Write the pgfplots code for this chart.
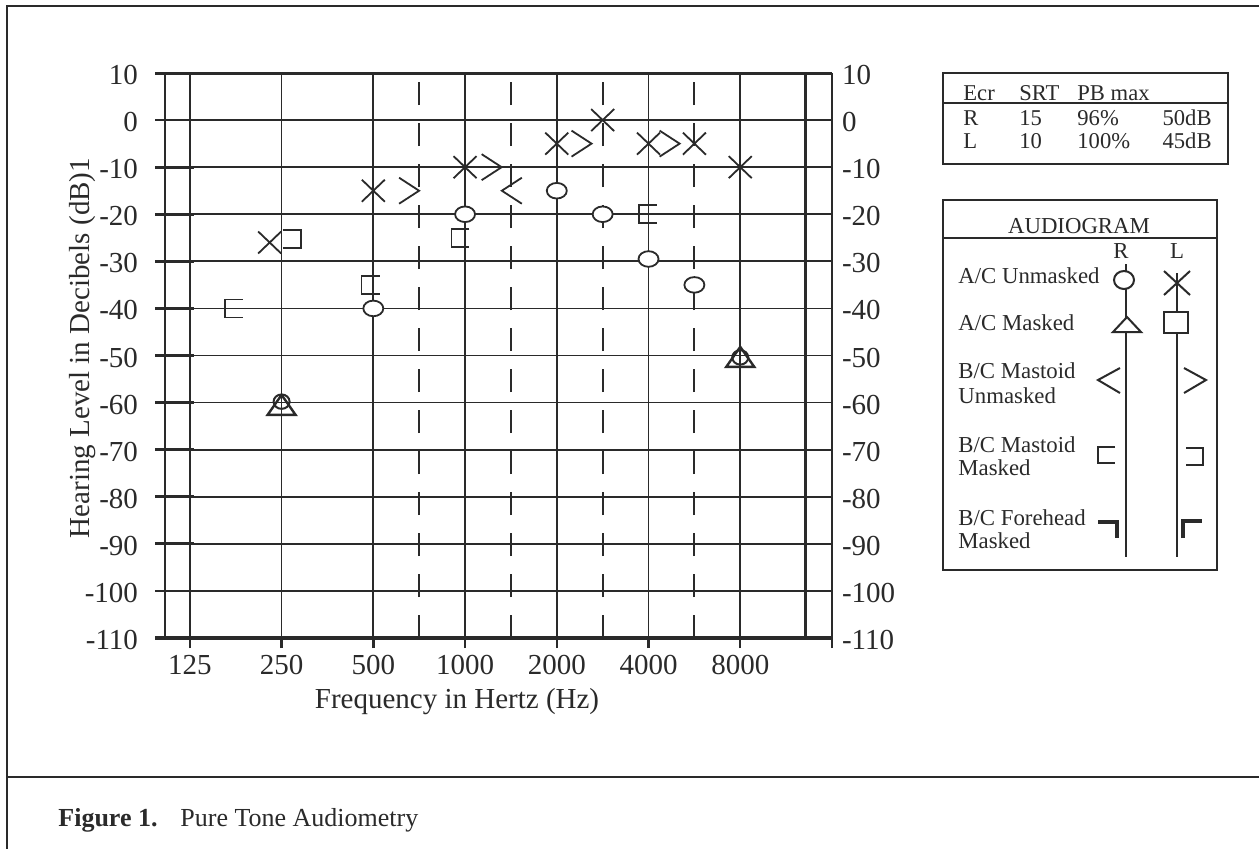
\documentclass[border=0pt]{standalone}
\usepackage{fontspec}
\setmainfont{Liberation Serif}
\usepackage{pgfplots}
\pgfplotsset{compat=1.18}
\definecolor{ink}{HTML}{2A2A2A}

% audiogram symbols as plot marks
\pgfdeclareplotmark{xm}{%
  \pgfpathmoveto{\pgfqpoint{-5.75pt}{-5.5pt}}\pgfpathlineto{\pgfqpoint{5.75pt}{5.5pt}}%
  \pgfpathmoveto{\pgfqpoint{-5.75pt}{5.5pt}}\pgfpathlineto{\pgfqpoint{5.75pt}{-5.5pt}}%
  \pgfusepathqstroke}
\pgfdeclareplotmark{gtm}{%
  \pgfpathmoveto{\pgfqpoint{-5pt}{6.5pt}}\pgfpathlineto{\pgfqpoint{5pt}{0pt}}%
  \pgfpathlineto{\pgfqpoint{-5pt}{-6.5pt}}\pgfusepathqstroke}
\pgfdeclareplotmark{ltm}{%
  \pgfpathmoveto{\pgfqpoint{5pt}{6.5pt}}\pgfpathlineto{\pgfqpoint{-5pt}{0pt}}%
  \pgfpathlineto{\pgfqpoint{5pt}{-6.5pt}}\pgfusepathqstroke}
\pgfdeclareplotmark{brR}{%
  \pgfpathmoveto{\pgfqpoint{4.5pt}{4.5pt}}\pgfpathlineto{\pgfqpoint{-4.5pt}{4.5pt}}%
  \pgfpathlineto{\pgfqpoint{-4.5pt}{-4.5pt}}\pgfpathlineto{\pgfqpoint{4.5pt}{-4.5pt}}%
  \pgfusepathqstroke}
\pgfdeclareplotmark{brL}{%
  \pgfpathmoveto{\pgfqpoint{-4.5pt}{4.5pt}}\pgfpathlineto{\pgfqpoint{4.5pt}{4.5pt}}%
  \pgfpathlineto{\pgfqpoint{4.5pt}{-4.5pt}}\pgfpathlineto{\pgfqpoint{-4.5pt}{-4.5pt}}%
  \pgfusepathqstroke}
\pgfdeclareplotmark{circm}{%
  \pgfpathellipse{\pgfpointorigin}{\pgfqpoint{5pt}{0pt}}{\pgfqpoint{0pt}{3.9pt}}%
  \pgfusepathqfillstroke}
\pgfdeclareplotmark{circs}{%
  \pgfpathellipse{\pgfpointorigin}{\pgfqpoint{4pt}{0pt}}{\pgfqpoint{0pt}{3.6pt}}%
  \pgfusepathqstroke}
\pgfdeclareplotmark{trim}{%
  \pgfpathmoveto{\pgfqpoint{0pt}{5.5pt}}\pgfpathlineto{\pgfqpoint{7pt}{-4.5pt}}%
  \pgfpathlineto{\pgfqpoint{-7pt}{-4.5pt}}\pgfpathclose\pgfusepathqstroke}

\begin{document}
\begin{tikzpicture}
\clip (0pt,0pt) rectangle (629.5pt,-424pt);
\fill[white] (0pt,0pt) rectangle (629.5pt,-424pt);

\begin{axis}[
  at={(77.5pt,-319pt)}, anchor=south west,
  width=338.5pt, height=282.5pt, scale only axis,
  xmin=-0.38, xmax=7, ymin=-110, ymax=10,
  clip=false,
  axis line style={draw=none},
  xtick={0,1,2,3,4,5,6,7},
  xticklabels={125,250,500,1000,2000,4000,8000,{}},
  ytick={-110,-100,-90,-80,-70,-60,-50,-40,-30,-20,-10,0,10},
  yticklabels={-110,-100,-90,-80,-70,-60,-50,-40,-30,-20,-10,0,10},
  xtick pos=lower, tick align=outside, major tick length=5pt,
  x tick style={line width=1.2pt, ink},
  y tick style={draw=none},
  grid=major,
  major grid style={line width=0.9pt, ink},
  extra x ticks={2.5,3.5,4.5,5.5},
  extra x tick labels={},
  extra x tick style={grid=major, major grid style={line width=0.9pt, ink, dash pattern=on 11.5pt off 9pt}, tick style={draw=none}},
  tick label style={font=\fontsize{14.5}{17}\selectfont, text=ink},
  yticklabel style={yshift=-1pt},
]
% heavy frame lines of the audiogram form
\draw[line width=1.4pt, ink] (axis cs:-0.27,-110) -- (axis cs:-0.27,10);
\draw[line width=1.4pt, ink] (axis cs:6.71,-110) -- (axis cs:6.71,10);
\draw[line width=1.2pt, ink] (axis cs:0,-110) -- (axis cs:0,10);
\draw[line width=1.5pt, ink] (axis cs:-0.38,10) -- (axis cs:7,10);
\draw[line width=1.8pt, ink] (axis cs:-0.38,-110) -- (axis cs:7,-110);
\pgfplotsinvokeforeach{-100,-90,-80,-70,-60,-50,-40,-30,-20,-10,0}{
  \draw[line width=1.4pt, ink] (axis cs:-0.38,#1) -- (axis cs:0.05,#1);}

% Left A/C unmasked (X)
\addplot[only marks, mark=xm, mark options={draw=ink, line width=0.9pt}]
  coordinates {(0.87,-26) (2,-15) (3,-10) (4,-5) (4.5,0) (5,-5) (5.5,-5) (6,-10)};
% Left B/C mastoid unmasked (>)
\addplot[only marks, mark=gtm, mark options={draw=ink, line width=0.9pt}]
  coordinates {(2.39,-15) (3.29,-10) (4.27,-5) (5.23,-5)};
% Right B/C mastoid unmasked (<)
\addplot[only marks, mark=ltm, mark options={draw=ink, line width=0.9pt}]
  coordinates {(3.51,-15)};
% Right B/C mastoid masked
\addplot[only marks, mark=brR, mark options={draw=ink, line width=0.9pt}]
  coordinates {(0.48,-40) (1.97,-35) (2.95,-25) (4.99,-20)};
% Left B/C mastoid masked
\addplot[only marks, mark=brL, mark options={draw=ink, line width=0.9pt}]
  coordinates {(1.11,-25.3)};
% Right A/C unmasked (O)
\addplot[only marks, mark=circm, mark options={draw=ink, fill=white, line width=0.9pt}]
  coordinates {(2,-40) (3,-20) (4,-15) (4.5,-20) (5,-29.5) (5.5,-35)};
% Right A/C masked (triangle) with circle
\addplot[only marks, mark=trim, mark options={draw=ink, line width=1.2pt}]
  coordinates {(1,-60.7) (6,-50.5)};
\addplot[only marks, mark=circs, mark options={draw=ink, line width=1pt}]
  coordinates {(1,-59.8) (6,-50.4)};
\end{axis}

% right-hand tick labels
\begin{axis}[
  at={(77.5pt,-319pt)}, anchor=south west,
  width=338.5pt, height=282.5pt, scale only axis,
  xmin=-0.38, xmax=7, ymin=-110, ymax=10,
  axis line style={draw=none},
  xtick=\empty,
  ytick={-110,-100,-90,-80,-70,-60,-50,-40,-30,-20,-10,0,10},
  yticklabels={-110,-100,-90,-80,-70,-60,-50,-40,-30,-20,-10,0,10},
  yticklabel pos=right, ytick pos=right,
  y tick style={draw=none},
  tick label style={font=\fontsize{14.5}{17}\selectfont, text=ink},
  yticklabel style={yshift=-1pt, xshift=1.5pt},
]
\end{axis}

\begin{scope}[x=0.5pt, y=-0.5pt]
  % outer frame and caption
  \draw[line width=1pt, ink] (7,6) rectangle (1280,870);
  \draw[line width=1pt, ink] (7,777) -- (1280,777);
  \node[anchor=base west, inner sep=0pt, font=\fontsize{13}{15}\selectfont\bfseries, text=ink] at (58,826) {Figure 1.};
  \node[anchor=base west, inner sep=0pt, font=\fontsize{13}{15}\selectfont, text=ink] at (180,826) {Pure Tone Audiometry};

  % axis titles
  \node[rotate=90, anchor=base, inner sep=0pt, font=\fontsize{14.5}{17}\selectfont, text=ink] at (89,348) {Hearing Level in Decibels (dB)1};
  \node[anchor=base, inner sep=0pt, font=\fontsize{14.5}{17}\selectfont, text=ink] at (457,708) {Frequency in Hertz (Hz)};

  % SRT / PB table
  \draw[line width=0.9pt, ink] (943,73) rectangle (1228,164);
  \draw[line width=0.9pt, ink] (943,103) -- (1228,103);
  \begin{scope}[every node/.style={inner sep=0pt, font=\fontsize{11.3}{13}\selectfont, text=ink}]
    \node[anchor=base west] at (963,100) {Ecr};
    \node[anchor=base west] at (1019,100) {SRT};
    \node[anchor=base west] at (1077,100) {PB max};
    \node[anchor=base west] at (963,125) {R};
    \node[anchor=base west] at (1019,125) {15};
    \node[anchor=base west] at (1077,125) {96\%};
    \node[anchor=base east] at (1212,125) {50dB};
    \node[anchor=base west] at (963,148) {L};
    \node[anchor=base west] at (1019,148) {10};
    \node[anchor=base west] at (1077,148) {100\%};
    \node[anchor=base east] at (1212,148) {45dB};
  \end{scope}

  % symbol key
  \draw[line width=0.9pt, ink] (943,200) rectangle (1217,570);
  \draw[line width=0.9pt, ink] (943,238) -- (1217,238);
  \begin{scope}[every node/.style={inner sep=0pt, font=\fontsize{11.4}{13}\selectfont, text=ink}]
    \node[anchor=base] at (1079,233) {AUDIOGRAM};
    \node[anchor=base] at (1121,258) {R};
    \node[anchor=base] at (1177,258) {L};
    \node[anchor=base west] at (958,283) {A/C Unmasked};
    \node[anchor=base west] at (958,330) {A/C Masked};
    \node[anchor=base west] at (958,378) {B/C Mastoid};
    \node[anchor=base west] at (958,403) {Unmasked};
    \node[anchor=base west] at (958,452) {B/C Mastoid};
    \node[anchor=base west] at (958,475) {Masked};
    \node[anchor=base west] at (958,525) {B/C Forehead};
    \node[anchor=base west] at (958,548) {Masked};
  \end{scope}
  \draw[line width=1pt, ink] (1126,264) -- (1126,557);
  \draw[line width=1pt, ink] (1177,273) -- (1177,557);
  \draw[line width=1pt, ink, fill=white] (1124,280) ellipse [x radius=10, y radius=9];
  \draw[line width=1pt, ink, fill=white] (1127,317) -- (1141,332) -- (1113,332) -- cycle;
  \draw[line width=1pt, ink] (1164,271) -- (1190,295) (1164,295) -- (1190,271);
  \draw[line width=1pt, ink, fill=white] (1164,312) rectangle (1188,333);
  \draw[line width=1pt, ink] (1120,368) -- (1098,380) -- (1120,393);
  \draw[line width=1pt, ink] (1184,368) -- (1206,380) -- (1184,393);
  \draw[line width=1pt, ink] (1115,447) -- (1098,447) -- (1098,463) -- (1115,463);
  \draw[line width=1pt, ink] (1186,448) -- (1203,448) -- (1203,465) -- (1186,465);
  \draw[line width=1.6pt, ink] (1098,522) -- (1117,522) -- (1117,538);
  \draw[line width=1.6pt, ink] (1183,538) -- (1183,521) -- (1202,521);
\end{scope}
\end{tikzpicture}
\end{document}
